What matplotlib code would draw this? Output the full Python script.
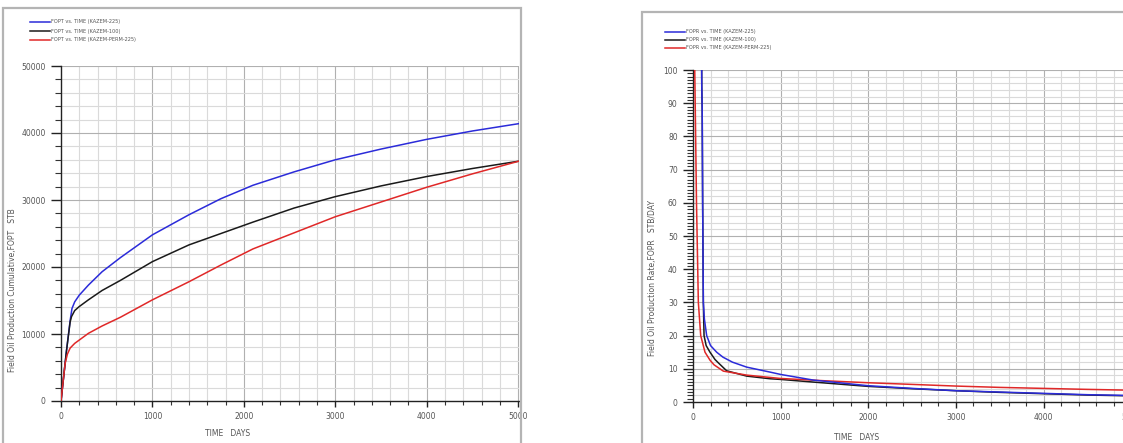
import matplotlib.pyplot as plt
from matplotlib.ticker import MultipleLocator
from matplotlib.lines import Line2D
from matplotlib.patches import Rectangle

# ---- cumulative oil (FOPT) ----
fopt_225_t = [0, 20, 60, 100, 120, 150, 200, 300, 450, 650, 1000, 1400, 1750, 2100, 2550, 3000, 3500, 4000, 4500, 5010]
fopt_225 = [0, 2500, 7500, 12000, 13800, 14800, 15800, 17300, 19300, 21400, 24800, 27800, 30200, 32200, 34200, 36000, 37600, 39050, 40300, 41400]

fopt_100_t = [0, 20, 60, 100, 115, 150, 200, 300, 450, 650, 1000, 1400, 1750, 2100, 2550, 3000, 3500, 4000, 4500, 5010]
fopt_100 = [0, 2500, 7500, 11800, 12600, 13500, 14100, 15100, 16500, 18000, 20800, 23300, 25000, 26700, 28800, 30500, 32100, 33500, 34700, 35800]

fopt_perm_t = [0, 20, 45, 70, 100, 150, 200, 300, 450, 650, 1000, 1400, 1750, 2100, 2550, 3000, 3500, 4000, 4500, 5010]
fopt_perm = [0, 2500, 5600, 7000, 7900, 8600, 9100, 10100, 11200, 12500, 15100, 17800, 20300, 22700, 25100, 27500, 29700, 31900, 33900, 35800]

# ---- oil rate (FOPR) ----
fopr_225_t = [95, 100, 105, 110, 118, 130, 156, 200, 270, 342, 450, 613, 880, 1000, 1373, 2000, 2500, 3000, 3500, 4000, 4500, 5100]
fopr_225 = [120, 95, 88, 60, 30, 25, 20, 17, 15, 13.5, 12, 10.5, 9.0, 8.3, 6.6, 4.9, 4.1, 3.4, 3.0, 2.6, 2.2, 1.9]

fopr_100_t = [95, 100, 105, 110, 118, 126, 150, 194, 251, 289, 384, 613, 880, 1000, 1373, 2000, 2500, 3000, 3500, 4000, 4500, 5100]
fopr_100 = [120, 95, 88, 60, 30, 20, 17, 15, 12.8, 11.8, 9.4, 7.8, 7.0, 6.8, 6.0, 4.7, 4.0, 3.4, 2.9, 2.5, 2.1, 1.8]

fopr_perm_t = [15, 20, 40, 61, 88, 137, 194, 240, 346, 613, 993, 1500, 2000, 2500, 3000, 3500, 4000, 4500, 5100]
fopr_perm = [120, 100, 60, 30, 20, 15, 12.6, 11.2, 9.3, 8.1, 7.1, 6.4, 5.8, 5.3, 4.8, 4.4, 4.1, 3.8, 3.5]

cases = ["KAZEM-225", "KAZEM-100", "KAZEM-PERM-225"]
colors = ["#2b2bd9", "#1a1a1a", "#e02828"]

W, H = 1123, 443
fig = plt.figure(figsize=(W / 100, H / 100), dpi=100)


def px_axes(x0, y0, x1, y1):
    return fig.add_axes([x0 / W, 1 - y1 / H, (x1 - x0) / W, (y1 - y0) / H])


def style(ax, xmin_step, ymaj, ymin_tick, ygrid_step, ymax, xmax):
    ax.set_xlim(0, xmax)
    ax.set_ylim(0, ymax)
    for s in ["top", "right"]:
        ax.spines[s].set_visible(False)
    for s in ["left", "bottom"]:
        ax.spines[s].set_color("#222222")
        ax.spines[s].set_linewidth(1.0)
    ax.xaxis.set_major_locator(MultipleLocator(1000))
    ax.xaxis.set_minor_locator(MultipleLocator(xmin_step))
    ax.yaxis.set_major_locator(MultipleLocator(ymaj))
    ax.yaxis.set_minor_locator(MultipleLocator(ymin_tick))
    ax.tick_params(which="major", direction="out", length=7, width=1.0,
                   color="#222222", labelsize=5.5, labelcolor="#555555", pad=4)
    ax.tick_params(which="minor", direction="out", length=4, width=0.8, color="#333333")
    ax.tick_params(axis="x", which="major", length=4)
    ax.tick_params(axis="x", which="minor", length=3)
    # grid
    x = xmin_step
    while x < xmax:
        c = "#b0b0b0" if x % 1000 == 0 else "#dadada"
        ax.axvline(x, color=c, lw=0.8, zorder=0)
        x += xmin_step
    y = ygrid_step
    while y <= ymax:
        c = "#b0b0b0" if abs(y % ymaj) < 1e-9 else "#dadada"
        ax.axhline(y, color=c, lw=0.8, zorder=0)
        y += ygrid_step


# left panel
ax1 = px_axes(61, 66, 519, 401)
style(ax1, 200, 10000, 2000, 2000, 50000, 5010)
ax1.plot(fopt_225_t, fopt_225, color=colors[0], lw=1.1, zorder=3)
ax1.plot(fopt_100_t, fopt_100, color=colors[1], lw=1.1, zorder=3)
ax1.plot(fopt_perm_t, fopt_perm, color=colors[2], lw=1.1, zorder=3)

# right panel
ax2 = px_axes(693, 70, 1140, 402)
style(ax2, 200, 10, 1, 2, 100, 5100)
ax2.plot(fopr_100_t, fopr_100, color=colors[1], lw=1.1, zorder=3)
ax2.plot(fopr_perm_t, fopr_perm, color=colors[2], lw=1.1, zorder=3)
ax2.plot(fopr_225_t, fopr_225, color=colors[0], lw=1.1, zorder=4)

# panel frames
fig.add_artist(Rectangle((3 / W, -0.1), (521 - 3) / W, 1.1 - 8 / H, transform=fig.transFigure,
                         fill=False, edgecolor="#b4b4b4", lw=1.6))
fig.add_artist(Rectangle((642 / W, -0.1), 0.5, 1.1 - 12 / H, transform=fig.transFigure,
                         fill=False, edgecolor="#b4b4b4", lw=1.6))

# legends
for prefix, lx, ly, dy in [("FOPT", 30, 22, 9), ("FOPR", 665, 32, 8)]:
    for i, (case, col) in enumerate(zip(cases, colors)):
        yy = 1 - (ly + i * dy) / H
        fig.add_artist(Line2D([lx / W, (lx + 20) / W], [yy, yy], color=col, lw=1.1,
                              transform=fig.transFigure))
        fig.text((lx + 21) / W, yy, f"{prefix} vs. TIME ({case})", fontsize=3.6,
                 color="#555555", va="center", ha="left")

# axis labels
fig.text(13 / W, 1 - 290 / H, "Field Oil Production Cumulative,FOPT   STB", rotation=90,
         fontsize=5.5, color="#555555", ha="center", va="center")
fig.text(652 / W, 1 - 278 / H, "Field Oil Production Rate,FOPR   STB/DAY", rotation=90,
         fontsize=5.5, color="#555555", ha="center", va="center")
fig.text(228 / W, 1 - 434 / H, "TIME   DAYS", fontsize=5.5, color="#555555", ha="center", va="center")
fig.text(857 / W, 1 - 437 / H, "TIME   DAYS", fontsize=5.5, color="#555555", ha="center", va="center")

fig.savefig("out.png", dpi=100)
